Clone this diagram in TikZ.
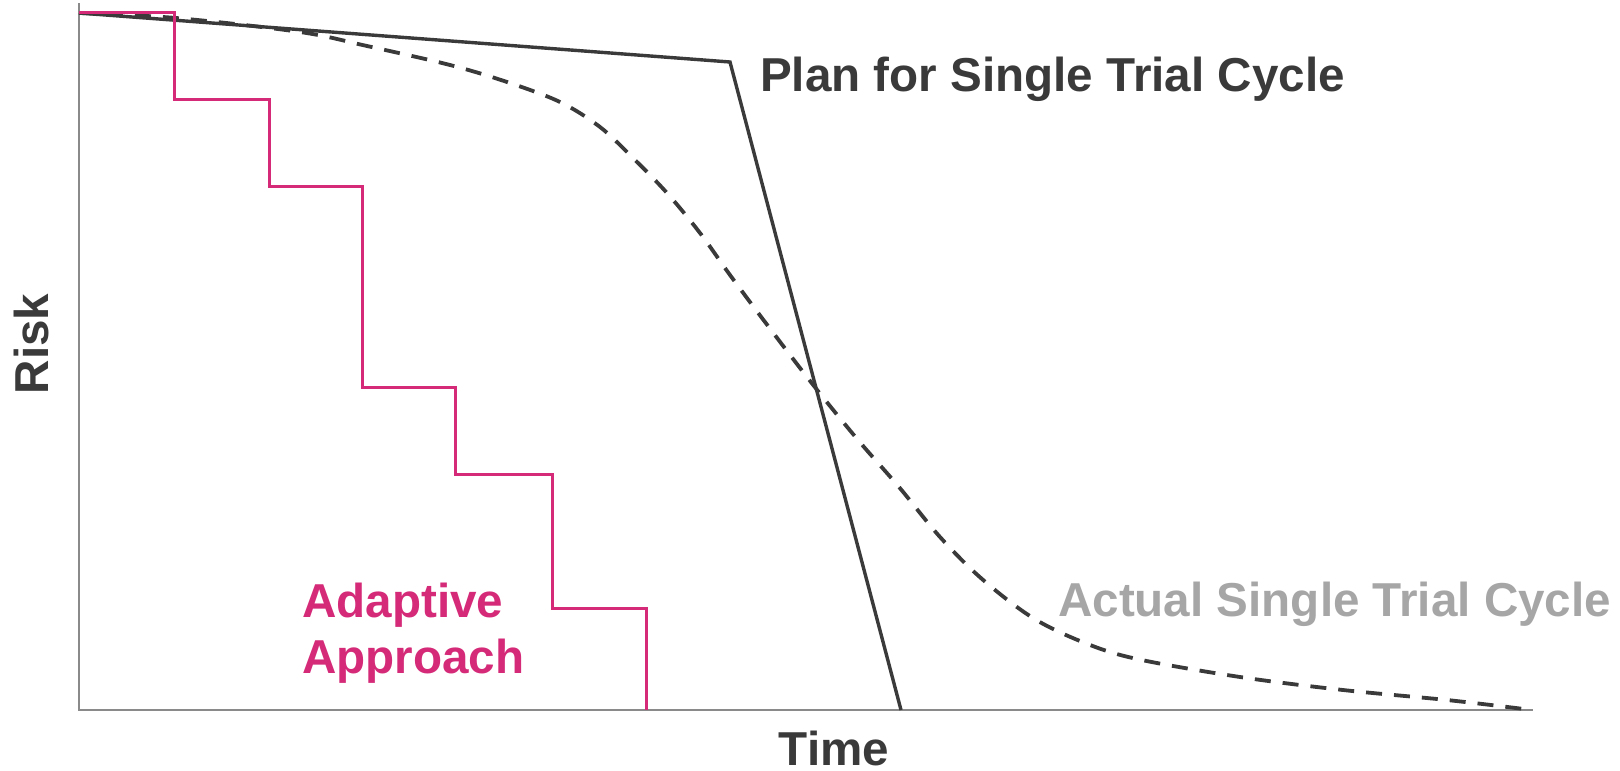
\documentclass[tikz,border=0pt]{standalone}
\usepackage{fontspec}
\setmainfont{Liberation Sans}
\definecolor{ink}{HTML}{3A3A3A}
\definecolor{axisgray}{HTML}{8A8A8A}
\definecolor{adapt}{HTML}{D42A78}
\definecolor{actualgray}{HTML}{A6A6A6}
\tikzset{
  axisline/.style={draw=axisgray, line width=2pt},
  planline/.style={draw=ink, line width=3.4pt, line join=miter},
  actualline/.style={draw=ink, line width=3.8pt, dash pattern=on 16pt off 12pt},
  adaptline/.style={draw=adapt, line width=3pt, line join=miter},
  bigfont/.style={font=\fontsize{47.6}{56}\selectfont\bfseries},
  lbl/.style={inner sep=0pt, anchor=base west, bigfont},
}
\begin{document}
\begin{tikzpicture}[x=1pt, y=-1pt]
\useasboundingbox (0,0) rectangle (1620,771);

% axes
\coordinate (ytop) at (79,3);
\coordinate (origin) at (79,710);
\coordinate (xend) at (1533,710);
\draw[axisline] (ytop) -- (origin) -- (xend);

% planned single trial cycle
\coordinate (p0) at (79,13);
\coordinate (p1) at (730,62);
\coordinate (p2) at (901,710);
\draw[planline] (p0) -- (p1) -- (p2);

% actual single trial cycle
\draw[actualline] plot[smooth, tension=0.55] coordinates {
  (79,13) (176,18) (300,32) (367,46) (450,65) (507,82) (560,102)
  (600,127) (633,158) (667,193) (700,233) (730,275) (765,322)
  (814,386) (858,440) (899,487) (940,537) (982,579) (1033,618)
  (1085,643) (1137,659) (1240,677) (1343,690) (1447,700) (1524,709)};

% adaptive approach: stepwise reduction
\draw[adaptline] (79,12) -- (174,12) -- (174,99) -- (269,99) -- (269,186)
  -- (362,186) -- (362,387) -- (455,387) -- (455,474) -- (552,474)
  -- (552,608) -- (646,608) -- (646,710);

% labels
\node[lbl, text=ink] (plan) at (760,91) {Plan for Single Trial Cycle};
\node[lbl, text=actualgray] (actual) at (1058,616) {Actual Single Trial Cycle};
\node[lbl, text=adapt] (adaptive) at (302,617) {Adaptive};
\node[lbl, text=adapt] (approach) at (302,673) {Approach};
\node[inner sep=0pt, anchor=base, text=ink, bigfont] (time) at (834,765) {Time};
\node[inner sep=0pt, anchor=base, rotate=90, text=ink, bigfont] (risk) at (48,344) {Risk};
\end{tikzpicture}
\end{document}
